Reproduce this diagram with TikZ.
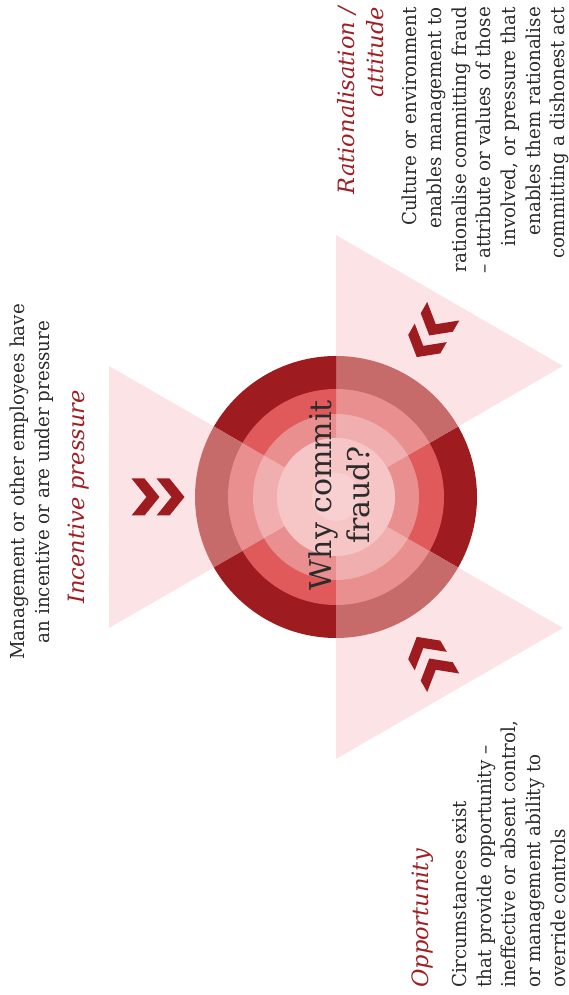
\documentclass[tikz,border=0pt]{standalone}
\usepackage{fontspec}
\setmainfont{DejaVu Serif}[FakeStretch=0.95]
\newfontfamily\ttlfont{DejaVu Serif}
\usetikzlibrary{calc}
\definecolor{darkred}{HTML}{9E1B1F}
\definecolor{midred}{HTML}{C76A6A}
\definecolor{brightred}{HTML}{E0595B}
\definecolor{pinkA}{HTML}{E98F8F}
\definecolor{pinkB}{HTML}{F0AEAE}
\definecolor{pinkC}{HTML}{F6C6C7}
\definecolor{pinkD}{HTML}{F8D0D1}
\definecolor{trifill}{HTML}{FCE4E6}
\definecolor{txt}{HTML}{2B2B2B}
\definecolor{titlered}{HTML}{A01D22}
\tikzset{
  tri/.style={fill=trifill},
  body/.style={text=txt, inner sep=0pt, rotate=90, font=\fontsize{19.2}{24.7}\selectfont},
  ttl/.style={text=titlered, inner sep=0pt, rotate=90, font=\ttlfont\fontsize{22.5}{29}\selectfont\itshape},
  chevpair/.pic={
    \fill[darkred] (-26.5,18.5) -- (-13.5,18.5) -- (1.5,0) -- (-13.5,-18.5) -- (-26.5,-18.5) -- (-11.5,0) -- cycle;
    \fill[darkred] (-1.5,18.5) -- (11.5,18.5) -- (26.5,0) -- (11.5,-18.5) -- (-1.5,-18.5) -- (13.5,0) -- cycle;
  }
}
\newcommand\ringsector[4]{\fill[#4] (C) -- ($(C)+(#1:#3)$) arc[start angle=#1,end angle=#2,radius=#3pt] -- cycle;}
\begin{document}
\begin{tikzpicture}[x=1pt,y=1pt]
\useasboundingbox (0,0) rectangle (568,995);
\coordinate (C) at (336,498);
% triangles
\fill[tri] ($(C)+(150:262)$) -- ($(C)+(210:262)$) -- (C) -- cycle;
\fill[tri] ($(C)+(30:262)$) -- ($(C)+(90:262)$) -- (C) -- cycle;
\fill[tri] ($(C)+(270:262)$) -- ($(C)+(330:262)$) -- (C) -- cycle;
% rings
\foreach \a/\c in {-30/darkred,30/midred,90/darkred,150/midred,210/darkred,270/midred}
  {\ringsector{\a}{\a+60}{141}{\c}}
\foreach \a/\c in {-30/brightred,30/pinkA,90/brightred,150/pinkA,210/brightred,270/pinkA}
  {\ringsector{\a}{\a+60}{108}{\c}}
\foreach \a/\c in {-30/pinkA,30/pinkB,90/pinkA,150/pinkB,210/pinkA,270/pinkB}
  {\ringsector{\a}{\a+60}{83}{\c}}
\fill[pinkC] (C) circle[radius=59pt];
\fill[pinkD] (C) circle[radius=24pt];
% chevrons
\pic[rotate=0] at ($(C)+(180:178)$) {chevpair};
\pic[rotate=240] at ($(C)+(60:188)$) {chevpair};
\pic[rotate=120] at ($(C)+(300:188)$) {chevpair};
% texts
\node[rotate=90, align=center, font=\ttlfont\fontsize{30}{38}\selectfont, text=txt, inner sep=0pt] (why) at (339,500) {Why commit\\fraud?};
\node[body, anchor=north, align=center] (inctext) at (10,513) {Management or other employees have\\an incentive or are under pressure};
\node[ttl, anchor=north] (inctitle) at (68,498) {Incentive pressure};
\node[ttl, anchor=north east, align=right] (rattitle) at (337,988) {Rationalisation /\\attitude};
\node[body, anchor=north east, align=right] (rattext) at (402,988) {Culture or environment\\enables management to\\rationalise committing fraud\\– attribute or values of those\\involved, or pressure that\\enables them rationalise\\committing a dishonest act};
\node[ttl, anchor=north west] (opptitle) at (412,7) {Opportunity};
\node[body, anchor=north west, align=left] (opptext) at (452,7) {Circumstances exist\\that provide opportunity –\\ineffective or absent control,\\or management ability to\\override controls};
\end{tikzpicture}
\end{document}
